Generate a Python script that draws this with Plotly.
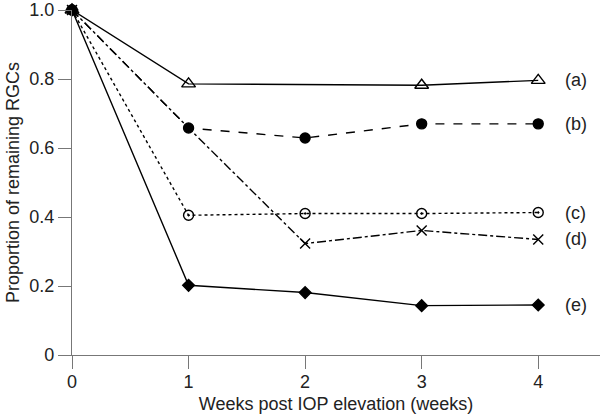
import plotly.graph_objects as go

weeks = [0, 1, 2, 3, 4]
series_a = [1.0, 0.786, None, 0.782, 0.796]
series_b = [1.0, 0.658, 0.629, 0.670, 0.670]
series_c = [1.0, 0.405, 0.410, 0.410, 0.413]
series_d = [1.0, 0.658, 0.323, 0.361, 0.335]
series_e = [1.0, 0.202, 0.181, 0.143, 0.145]
labels = ["(a)", "(b)", "(c)", "(d)", "(e)"]
y_ticks = [0, 0.2, 0.4, 0.6, 0.8, 1.0]
y_ticktext = ["0", "0.2", "0.4", "0.6", "0.8", "1.0"]
x_ticks = [0, 1, 2, 3, 4]

FONT = "Liberation Sans, Arial, Helvetica, sans-serif"
fig = go.Figure()

styles = [
    (series_a, "solid", "triangle-up-open", 12, [1, 1, 0, 1, 1]),
    (series_b, "dash", "circle", 10, [1, 1, 1, 1, 1]),
    (series_c, "dot", "circle-open-dot", 10, [1, 1, 1, 1, 1]),
    (series_d, "dashdot", "x-thin-open", 10, [1, 0, 1, 1, 1]),
    (series_e, "solid", "diamond", 9, [1, 1, 1, 1, 1]),
]

for vals, dash, sym, size, show in styles:
    xs = [w for w, v in zip(weeks, vals) if v is not None]
    ys = [v for v in vals if v is not None]
    sh = [s for s, v in zip(show, vals) if v is not None]
    fig.add_trace(go.Scatter(
        x=xs, y=ys, mode="lines+markers",
        line=dict(color="#000", width=1.4, dash=dash),
        marker=dict(symbol=sym, size=[size * s for s in sh], color="#000", opacity=1,
                    line=dict(color="#000", width=1.4)),
        cliponaxis=False, showlegend=False, hoverinfo="skip",
    ))

for lab, vals in zip(labels, [series_a, series_b, series_c, series_d, series_e]):
    fig.add_annotation(x=4.21, y=vals[-1], text=lab, showarrow=False,
                       xanchor="left", yanchor="middle",
                       font=dict(family=FONT, size=18, color="#222"))

fig.update_layout(
    width=600, height=419,
    margin=dict(l=72, r=0, t=10, b=64),
    plot_bgcolor="white", paper_bgcolor="white",
    font=dict(family=FONT, size=18, color="#222"),
)
fig.update_xaxes(
    range=[0, 4.53], tickvals=x_ticks, ticks="outside", ticklen=13,
    tickcolor="#777", tickwidth=1.2, showline=True, linecolor="#777", linewidth=1.2,
    showgrid=False, zeroline=False, ticklabelstandoff=-3,
    title=dict(text="Weeks post IOP elevation (weeks)", font=dict(size=18), standoff=6),
    tickfont=dict(size=18),
)
fig.update_yaxes(
    range=[0, 1.0], tickvals=y_ticks, ticktext=y_ticktext, ticks="outside", ticklen=13,
    tickcolor="#777", tickwidth=1.2, showline=True, linecolor="#777", linewidth=1.2,
    showgrid=False, zeroline=False,
    title=dict(text="Proportion of remaining RGCs", font=dict(size=18), standoff=4),
    tickfont=dict(size=18),
)

fig.write_html("out.html", config={"displayModeBar": False},
               post_script="document.body.style.margin='0';")
